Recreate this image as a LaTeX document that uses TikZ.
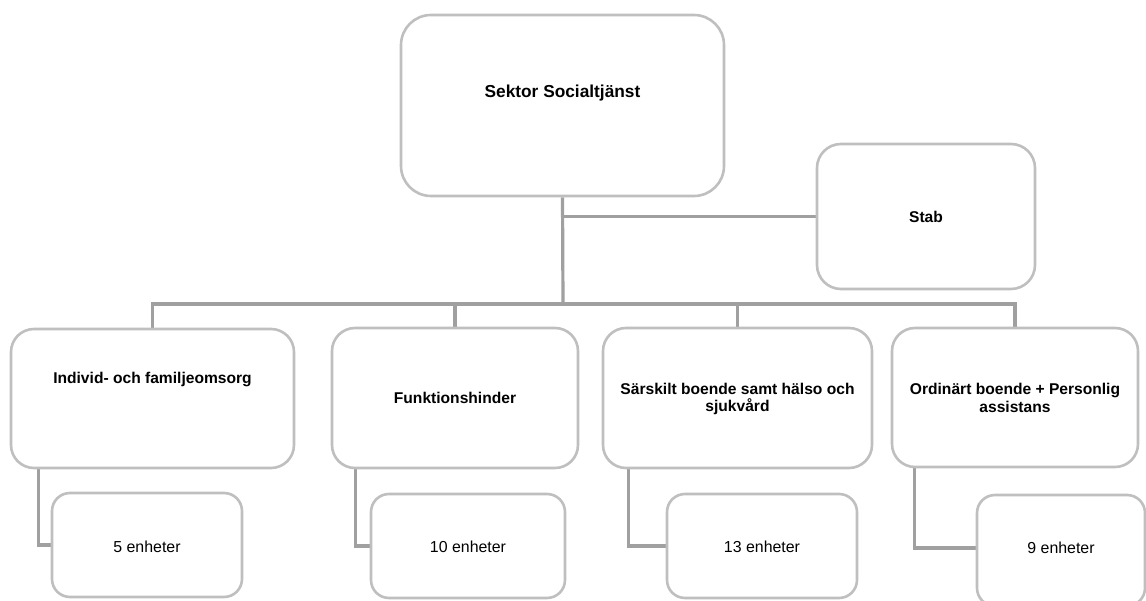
\documentclass[tikz,border=0pt]{standalone}
\usepackage{fontspec}
\setmainfont{Liberation Sans}
\usetikzlibrary{backgrounds}
\definecolor{boxline}{RGB}{191,191,191}
\definecolor{connline}{RGB}{160,160,160}
\tikzset{
  box/.style={draw=boxline, line width=2.6pt, fill=white, rounded corners=#1, inner sep=0pt},
  box/.default=24pt,
  conn/.style={draw=connline, line width=3.2pt},
  head/.style={font=\fontsize{15.6}{17.5}\selectfont\bfseries, align=center, inner sep=0pt},
  sub/.style={font=\fontsize{15.9}{18}\selectfont, inner sep=0pt}
}
\begin{document}
\begin{tikzpicture}[x=1pt,y=-1pt]
\useasboundingbox (0,0) rectangle (1146,601);
\clip (0,0) rectangle (1146,601);
% main boxes
\node[box=30pt, minimum width=323pt, minimum height=181pt] (top) at (562.5,105.5) {};
\node[head, font=\fontsize{17.3}{19}\selectfont\bfseries] (ttop) at (562.5,93) {Sektor Socialtjänst};
\node[box, minimum width=218pt, minimum height=145pt] (stab) at (926,216.5) {};
\node[head] (tstab) at (926,217) {Stab};
\node[box=23pt, minimum width=283pt, minimum height=139pt] (b1) at (152.5,398.5) {};
\node[head] (tb1) at (152.5,380) {Individ- och familjeomsorg};
\node[box=23pt, minimum width=246pt, minimum height=140pt] (b2) at (455,398) {};
\node[head] (tb2) at (455,398) {Funktionshinder};
\node[box=23pt, minimum width=269pt, minimum height=140pt] (b3) at (737.5,398) {};
\node[head] (tb3) at (737.5,399) {Särskilt boende samt hälso och\\sjukvård};
\node[box=23pt, minimum width=246pt, minimum height=139pt] (b4) at (1015,397.5) {};
\node[head] (tb4) at (1015,398) {Ordinärt boende + Personlig\\assistans};
% sub boxes
\node[box=18pt, minimum width=190pt, minimum height=104pt] (s1) at (147,545) {};
\node[sub] (ts1) at (147,547) {5 enheter};
\node[box=18pt, minimum width=194pt, minimum height=104pt] (s2) at (468,546) {};
\node[sub] (ts2) at (468,547) {10 enheter};
\node[box=18pt, minimum width=190pt, minimum height=104pt] (s3) at (762,546) {};
\node[sub] (ts3) at (762,547) {13 enheter};
\node[box=18pt, minimum width=168pt, minimum height=111pt] (s4) at (1061,550.5) {};
\node[sub] (ts4) at (1061,548) {9 enheter};
\coordinate (j) at (563,304);
\begin{scope}[on background layer]
\draw[conn] (top.south) -- (j);
\draw[conn] (top.south |- stab.west) -- (stab.west);
\draw[conn] (b1.north) |- (j) -| (b4.north);
\draw[conn] (b2.north) -- (b2.north |- j);
\draw[conn] (b3.north) -- (b3.north |- j);
\draw[conn] ([xshift=29pt]b1.south west) |- (s1.west);
\draw[conn] ([xshift=25pt]b2.south west) |- (s2.west);
\draw[conn] ([xshift=27pt]b3.south west) |- (s3.west);
\draw[conn] ([xshift=24pt]b4.south west) |- (ts4 -| s4.west);
\end{scope}
\end{tikzpicture}
\end{document}
